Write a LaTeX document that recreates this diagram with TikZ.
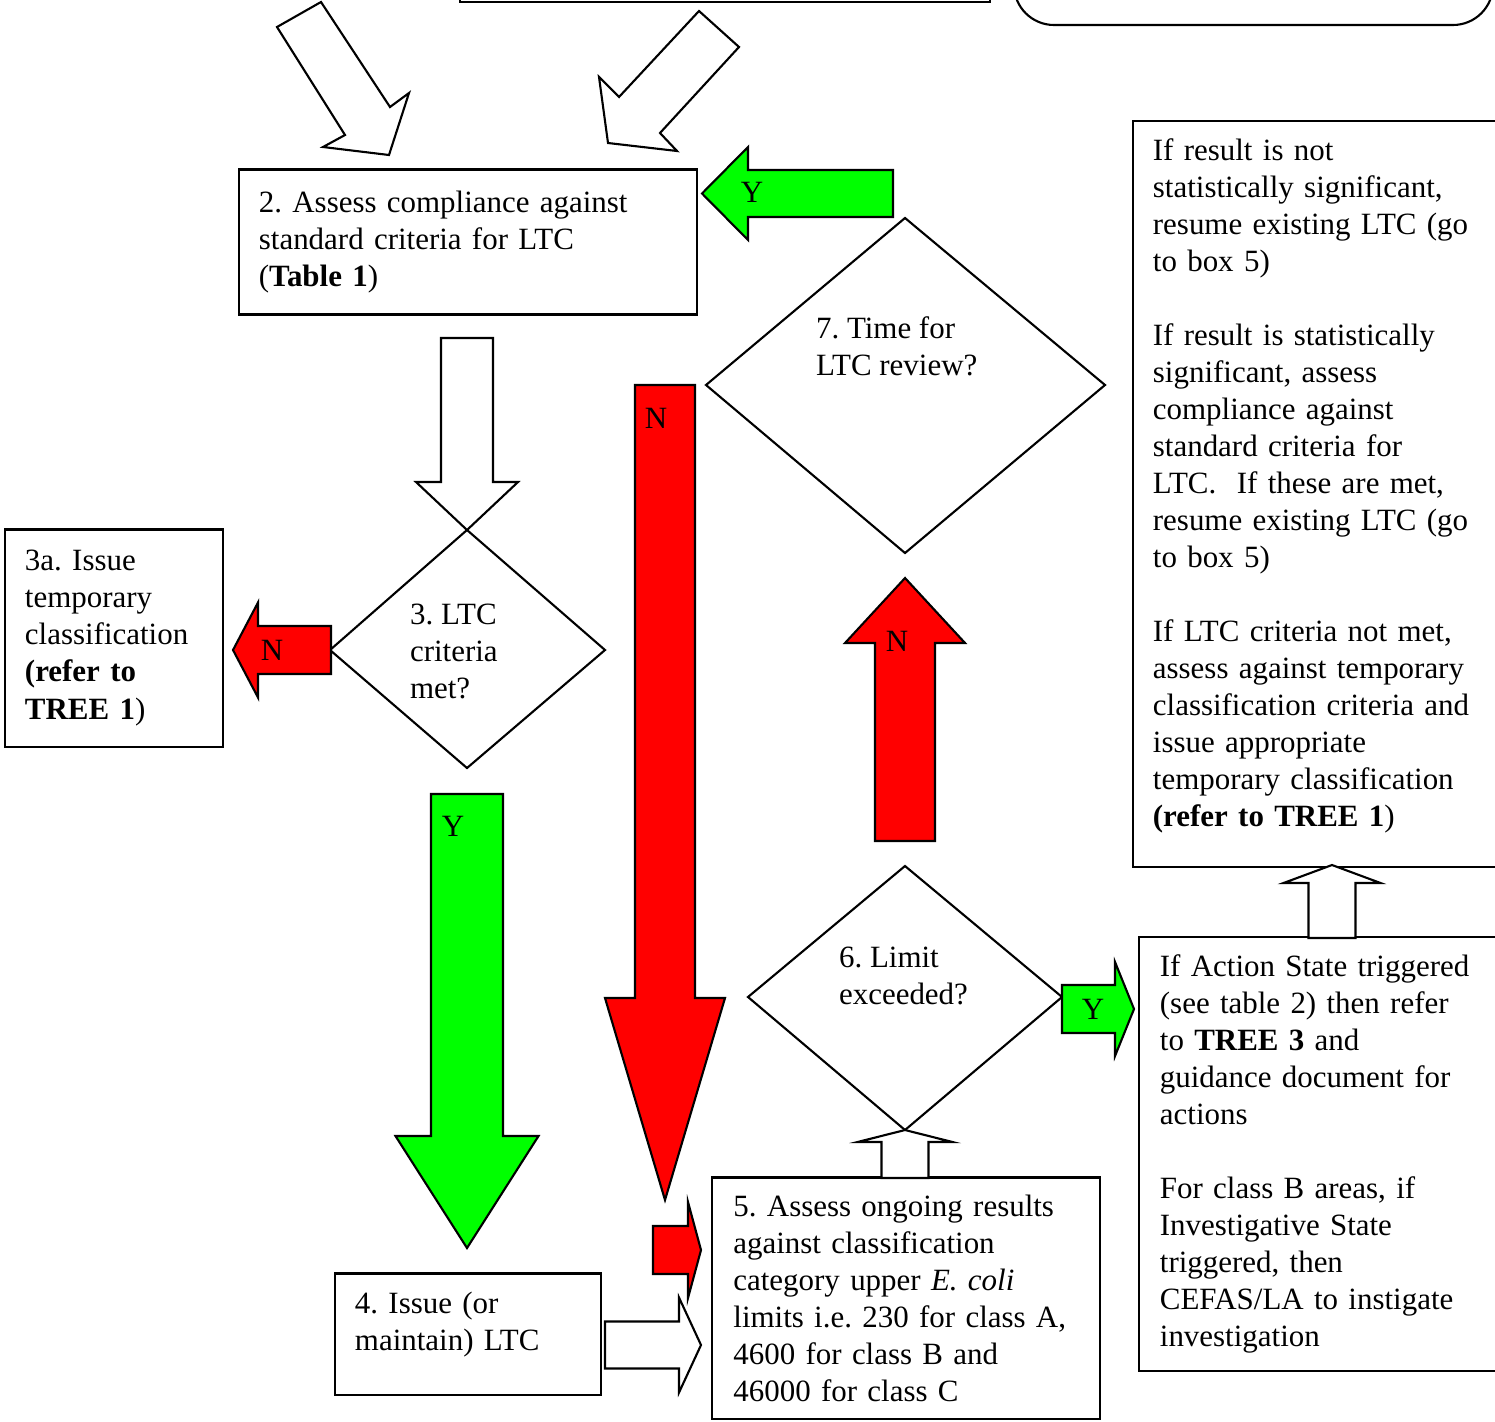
\documentclass[tikz,border=0pt]{standalone}
\usepackage{fontspec}
\setmainfont{Liberation Serif}
\usetikzlibrary{calc}

\definecolor{noRed}{RGB}{255,0,0}
\definecolor{yesGreen}{RGB}{0,255,0}

\tikzset{
    box/.style={draw, align=left, inner xsep=0.2cm, inner ysep=0pt},
    boxtext/.style={align=left, inner sep=0pt},
    question/.style={anchor=west, align=left, inner sep=0pt},
    answer/.style={inner sep=0pt},
}

\begin{document}
\frenchspacing
\begin{tikzpicture}[x=0.01cm, y=-0.01cm, line width=0.6pt,
        every node/.append style={font=\fontsize{8.8}{10.53}\selectfont\frenchspacing}]
                \useasboundingbox (0,0) rectangle (1495,1421);
                \clip (0,0) rectangle (1495,1421);

                % Block arrow going up or down: x, tail y, head y, tip y, half shaft, half head, fill
                \def\vArrow#1#2#3#4#5#6#7{
                    \filldraw[fill=#7] ({#1-#5},#2) -- ({#1-#5},#3) -- ({#1-#6},#3) -- (#1,#4)
                        -- ({#1+#6},#3) -- ({#1+#5},#3) -- ({#1+#5},#2) -- cycle;
                }
                % Block arrow going left or right: y, tail x, head x, tip x, half shaft, half head, fill
                \def\hArrow#1#2#3#4#5#6#7{
                    \filldraw[fill=#7] (#2,{#1-#5}) -- (#3,{#1-#5}) -- (#3,{#1-#6}) -- (#4,#1)
                        -- (#3,{#1+#6}) -- (#3,{#1+#5}) -- (#2,{#1+#5}) -- cycle;
                }

                % boxes cut off at the top
                \draw (460,-60) rectangle (990,2);
                \draw[rounded corners=0.4cm] (1014,-100) rectangle (1493,25);

                % the two slanted arrows into box 2
                \filldraw[fill=white] (277,27) -- (321,2) -- (390,107) -- (409,93) -- (389,155) -- (323,147) -- (345,135) -- cycle;
                \filldraw[fill=white] (699,11) -- (739,47) -- (660,133) -- (677,151) -- (608,143) -- (599,77) -- (619,97) -- cycle;

                \node[box, text width=4.18cm, minimum height=1.45cm] (assess) at (468,242)
                    {2. Assess compliance against\\standard criteria for LTC\\(\textbf{Table 1})};
                \node[box, text width=1.78cm, minimum height=2.17cm] (temporary) at (114,638)
                    {3a. Issue\\temporary\\classification\\\textbf{(refer to}\\\textbf{TREE 1})};
                \node[box, minimum width=2.66cm, minimum height=1.21cm] (issue) at (468,1334) {};
                \node[boxtext, text width=2.26cm] (issuetext) at (468,1325)
                    {4. Issue (or\\maintain) LTC};
                \node[box, inner xsep=0.21cm, text width=3.45cm, minimum height=2.41cm] (ongoing) at (906,1298)
                    {5. Assess ongoing results\\against classification\\category upper \textit{E. coli}\\limits i.e. 230 for class A,\\4600 for class B and\\46000 for class C};
                \node[box, minimum width=4cm, minimum height=7.45cm] (resume) at (1333,494) {};
                \node[boxtext, text width=3.6cm] (resumetext) at (1333,486)
                    {If result is not\\statistically significant,\\resume existing LTC (go\\to box 5)\\[10.53pt]
                     If result is statistically\\significant, assess\\compliance against\\standard criteria for\\LTC. \ If these are met,\\resume existing LTC (go\\to box 5)\\[10.53pt]
                     If LTC criteria not met,\\assess against temporary\\classification criteria and\\issue appropriate\\temporary classification\\\textbf{(refer to TREE 1})};
                \node[box, inner xsep=0.21cm, text width=3.58cm, minimum height=4.33cm] (action) at (1339,1154)
                    {If Action State triggered\\(see table 2) then refer\\to \textbf{TREE 3} and\\guidance document for\\actions\\[10.53pt]
                     For class B areas, if\\Investigative State\\triggered, then\\CEFAS/LA to instigate\\investigation};

                % decisions
                \coordinate (3t) at (467,530);
                \coordinate (3r) at (605,650);
                \coordinate (3b) at (467,768);
                \coordinate (3l) at (330,650);
                \coordinate (6t) at (905,866);
                \coordinate (6r) at (1062,997);
                \coordinate (6b) at (905,1130);
                \coordinate (6l) at (748,997);
                \coordinate (7t) at (905,218);
                \coordinate (7r) at (1105,385);
                \coordinate (7b) at (905,553);
                \coordinate (7l) at (706,385);
                \draw (3t) -- (3r) -- (3b) -- (3l) -- cycle;
                \draw (6t) -- (6r) -- (6b) -- (6l) -- cycle;
                \draw (7t) -- (7r) -- (7b) -- (7l) -- cycle;
                \node[question] (met) at (409,651) {3. LTC\\criteria\\met?};
                \node[question] (limit) at (838,976) {6. Limit\\exceeded?};
                \node[question] (time) at (815,346) {7. Time for\\LTC review?};

                \vArrow{467}{338}{482}{530}{26}{51}{white}
                \vArrow{467}{794}{1136}{1248}{36}{71.5}{yesGreen}
                \vArrow{665}{385}{998}{1200}{30}{60}{noRed}
                \vArrow{905}{841}{643}{578}{30}{60}{noRed}
                \vArrow{905}{1178}{1142}{1130}{23.5}{47.5}{white}
                \vArrow{1332}{938}{883}{865}{23.5}{48.5}{white}
                \hArrow{650}{331}{258}{233}{24}{47.5}{noRed}
                \hArrow{193.5}{893}{748}{702}{23.5}{46.5}{yesGreen}
                \hArrow{1009}{1062}{1115}{1134}{24}{47}{yesGreen}
                \hArrow{1345}{605}{679}{701}{23.5}{47.5}{white}
                \hArrow{1250}{653}{688}{701}{24}{48}{noRed}

                \node[answer] (yes1) at (752,192) {Y};
                \node[answer] (no1) at (272,650) {N};
                \node[answer] (yes2) at (453,826) {Y};
                \node[answer] (no2) at (656,418) {N};
                \node[answer] (no3) at (897,641) {N};
                \node[answer] (yes3) at (1093,1009) {Y};
            \end{tikzpicture}
\end{document}
